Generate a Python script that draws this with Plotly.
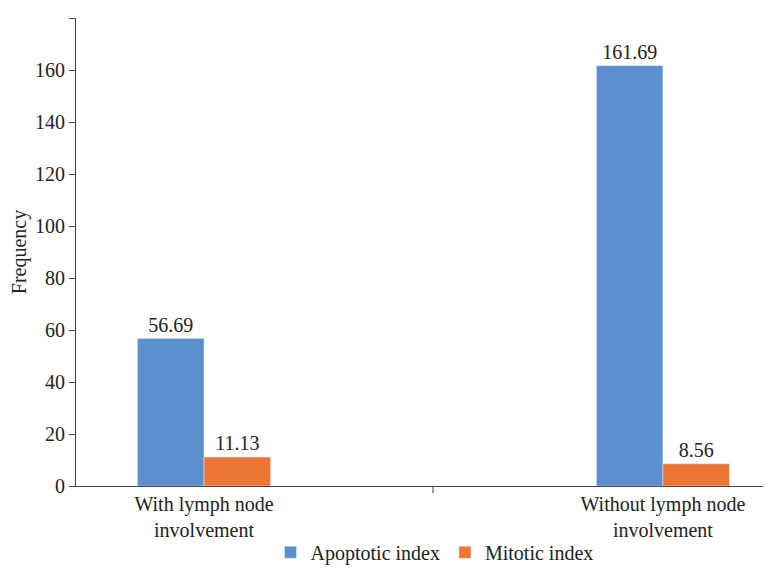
import plotly.graph_objects as go

categories = ["With lymph node<br>involvement", "Without lymph node<br>involvement"]
apoptotic = [56.69, 161.69]
mitotic = [11.13, 8.56]
apo_text = ["56.69", "161.69"]
mit_text = ["11.13", "8.56"]

pos = [0, 1]
w = 0.145
font = dict(family="Liberation Serif, DejaVu Serif, serif", size=20, color="#222")

fig = go.Figure()
fig.add_bar(x=[p - w/2 for p in pos], y=apoptotic, width=w, name="Apoptotic index",
            marker_color="#5b8fce", text=apo_text, textposition="outside",
            textfont=font, cliponaxis=False)
fig.add_bar(x=[p + w/2 for p in pos], y=mitotic, width=w, name="Mitotic index",
            marker_color="#ec7535", text=mit_text, textposition="outside",
            textfont=font, cliponaxis=False)

for xv in [0.499, 1.251]:
    fig.add_shape(type="line", x0=xv, x1=xv, y0=0, y1=-0.015, xref="x", yref="paper",
                  line=dict(color="#444", width=1))

fig.update_layout(
    width=771, height=574, margin=dict(l=68, r=0, t=10, b=96, autoexpand=False),
    plot_bgcolor="white", paper_bgcolor="white", font=font, barmode="overlay",
    showlegend=True,
    legend=dict(orientation="h", x=0.51, xanchor="center", y=-0.1, yanchor="top",
                font=font, traceorder="normal"),
    xaxis=dict(range=[-0.279, 1.253], tickvals=pos, ticktext=categories, ticks="",
               showline=True, linecolor="#444", showgrid=False, zeroline=False,
               tickfont=font, automargin=False),
    yaxis=dict(range=[0, 180.01], tickvals=list(range(0, 181, 20)), ticks="outside",
               ticklen=6, tickcolor="#444", automargin=False,
               showline=True, linecolor="#444", showgrid=False, zeroline=False,
               title=dict(text="Frequency", font=font, standoff=8), tickfont=font),
)
fig.write_html("out.html")
